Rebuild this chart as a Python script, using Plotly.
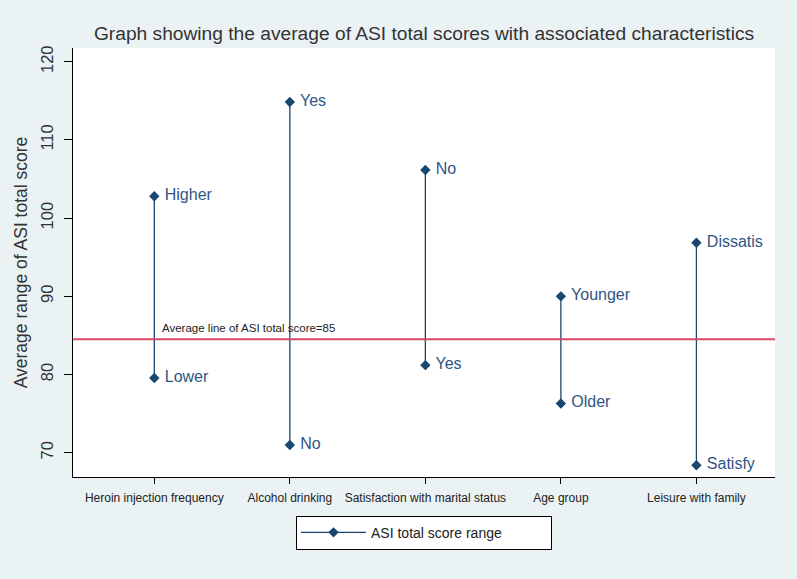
import plotly.graph_objects as go

categories = ["Heroin injection frequency", "Alcohol drinking", "Satisfaction with marital status", "Age group", "Leisure with family"]
high_values = [102.8, 114.85, 106.15, 90.0, 96.85]
low_values = [79.55, 71.0, 81.2, 76.3, 68.4]
high_labels = ["Higher", "Yes", "No", "Younger", "Dissatis"]
low_labels = ["Lower", "No", "Yes", "Older", "Satisfy"]
average_value = 84.5
average_label = "Average line of ASI total score=85"
y_ticks = [70, 80, 90, 100, 110, 120]

navy = "#1a476f"
font = "Liberation Sans"

fig = go.Figure()
for i, cat in enumerate(categories):
    fig.add_trace(go.Scatter(
        x=[i + 1, i + 1],
        y=[low_values[i], high_values[i]],
        mode="lines+markers+text",
        text=[" " + low_labels[i], " " + high_labels[i]],
        textposition="middle right",
        textfont=dict(family=font, size=16, color="#2f5585"),
        line=dict(color=navy, width=1.3),
        marker=dict(symbol="diamond", size=8, color=navy),
        name="ASI total score range",
        legendgroup="g",
        showlegend=(i == 0),
        cliponaxis=False,
    ))

fig.add_shape(type="line", xref="paper", x0=0, x1=1, yref="y", y0=average_value, y1=average_value,
              line=dict(color="#d44a69", width=2))
fig.add_annotation(x=1.04, y=average_value, xref="x", yref="y", text=average_label,
                   showarrow=False, xanchor="left", yanchor="bottom", yshift=3,
                   font=dict(family=font, size=11.5, color="#222"))

fig.update_layout(
    width=797, height=579,
    margin=dict(l=73, r=22, t=48, b=102),
    paper_bgcolor="#eaf2f3",
    plot_bgcolor="white",
    title=dict(text="Graph showing the average of ASI total scores with associated characteristics",
               x=0.532, xanchor="center", y=0.943, yanchor="middle",
               font=dict(family=font, size=19.2, color="#333")),
    font=dict(family=font),
    showlegend=True,
    legend=dict(orientation="h", x=0.5, xanchor="center", y=-0.13, yanchor="middle",
                bgcolor="white", bordercolor="black", borderwidth=1,
                font=dict(family=font, size=14, color="#222"), itemwidth=65,
                entrywidth=175),
    xaxis=dict(range=[0.4, 5.58], tickvals=[1, 2, 3, 4, 5], ticktext=categories,
               showgrid=False, zeroline=False, showline=True, linecolor="black", linewidth=1,
               ticks="outside", ticklen=6, tickcolor="black", ticklabelstandoff=4,
               tickfont=dict(family=font, size=12, color="#222")),
    yaxis=dict(range=[66.9, 121.75], tickvals=y_ticks, tickangle=-90,
               showgrid=False, zeroline=False, showline=True, linecolor="black", linewidth=1,
               ticks="outside", ticklen=8, tickcolor="black", ticklabelstandoff=4,
               tickfont=dict(family=font, size=16.5, color="#333"),
               title=dict(text="Average range of ASI total score", standoff=6,
                          font=dict(family=font, size=17.5, color="#333"))),
)

fig.write_html("out.html", config={"displayModeBar": False},
               post_script="document.body.style.margin='0';document.body.style.padding='0';")
